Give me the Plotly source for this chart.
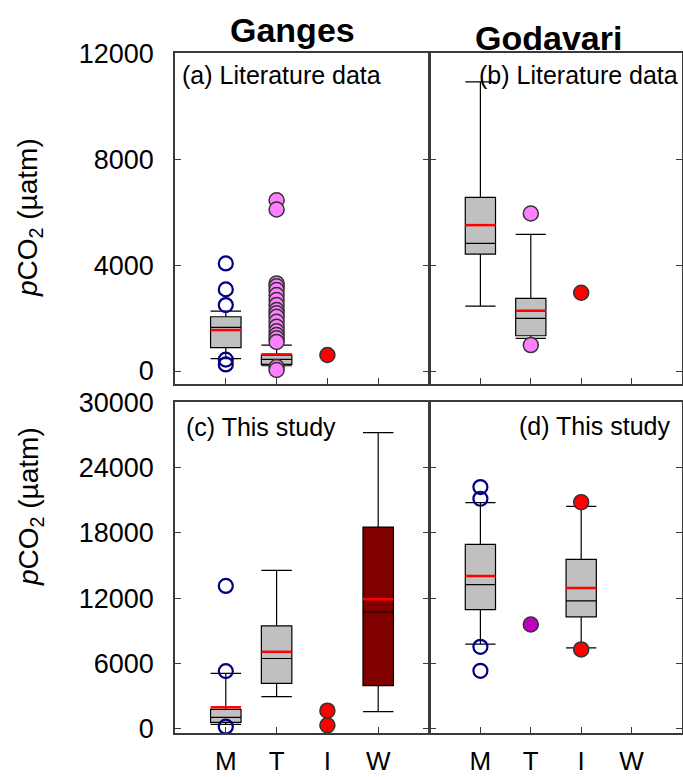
import plotly.graph_objects as go

W, H = 683, 777

categories = ["M", "T", "I", "W"]

# ---- (a) Ganges, literature data ----
ga_q1 = [880, 250, None, None]
ga_med = [1650, 440, None, None]
ga_q3 = [2050, 604, None, None]
ga_lo = [470, 200, None, None]
ga_hi = [2260, 980, None, None]
ga_mean = [1547, 630, None, None]
ga_out_M = [4064, 3083, 2490, 430, 250]
ga_out_T = [6450, 6100, 3310, 3200, 3057, 2868, 2680, 2490, 2302, 2180,
            2050, 1860, 1672, 1500, 1359, 1234, 1100, 150, 40]
ga_out_I = [604]

# ---- (b) Godavari, literature data ----
gb_q1 = [4415, 1333, None, None]
gb_med = [4820, 1988, None, None]
gb_q3 = [6555, 2743, None, None]
gb_lo = [2453, 1233, None, None]
gb_hi = [10920, 5158, None, None]
gb_mean = [5510, 2277, None, None]
gb_out_T = [5950, 980]
gb_out_I = [2956]

# ---- (c) Ganges, this study ----
gc_q1 = [610, 4190, None, 3970]
gc_med = [1070, 6470, None, 10750]
gc_q3 = [1800, 9460, None, 18530]
gc_lo = [430, 2960, None, 1590]
gc_hi = [5100, 14560, None, 27200]
gc_mean = [1990, 7080, None, 11910]
gc_out_M = [13130, 5310, 210]
gc_out_I = [1680, 340]

# ---- (d) Godavari, this study ----
gd_q1 = [10960, None, 10290, None]
gd_med = [13250, None, 11750, None]
gd_q3 = [16950, None, 15570, None]
gd_lo = [7790, None, 7450, None]
gd_hi = [20770, None, 20430, None]
gd_mean = [14040, None, 12940, None]
gd_out_M = [22200, 21130, 7540, 5340]
gd_out_T = [9590]
gd_out_I = [20820, 7300]

top_ticks = [0, 4000, 8000, 12000]
top_tick_labels = ["0", "4000", "8000", "12000"]
bottom_ticks = [0, 6000, 12000, 18000, 24000, 30000]
bottom_tick_labels = ["0", "6000", "12000", "18000", "24000", "30000"]

FONT = "Arial, 'Liberation Sans', Helvetica, sans-serif"
FRAME = "#3a3a3a"
BOXW = 0.6

fig = go.Figure()

pos = {c: i + 1 for i, c in enumerate(categories)}


def add_boxes(ax, q1, med, q3, lo, hi, mean, fills):
    xa, ya = ax
    for i, c in enumerate(categories):
        if q1[i] is None:
            continue
        fig.add_trace(go.Box(
            x=[pos[c]], q1=[q1[i]], median=[med[i]], q3=[q3[i]],
            lowerfence=[lo[i]], upperfence=[hi[i]],
            width=BOXW, whiskerwidth=1, boxpoints=False,
            fillcolor=fills[i], line=dict(color="black", width=1.2),
            xaxis=xa, yaxis=ya, showlegend=False, hoverinfo="skip"))
        fig.add_trace(go.Scatter(
            x=[pos[c] - BOXW / 2, pos[c] + BOXW / 2], y=[mean[i], mean[i]],
            mode="lines", line=dict(color="#ff0000", width=2.5),
            xaxis=xa, yaxis=ya, showlegend=False, hoverinfo="skip"))


def add_points(ax, cat, vals, kind):
    xa, ya = ax
    if kind == "open":
        marker = dict(symbol="circle-open", size=14, color="#000080",
                      line=dict(width=2.2, color="#000080"))
    else:
        marker = dict(symbol="circle", size=15, color=kind,
                      line=dict(width=1.5, color="#333333"))
    fig.add_trace(go.Scatter(
        x=[pos[cat]] * len(vals), y=vals, mode="markers", marker=marker,
        xaxis=xa, yaxis=ya, showlegend=False, hoverinfo="skip"))


A = ("x", "y")
B = ("x2", "y2")
C = ("x3", "y3")
D = ("x4", "y4")

GRAY = "#c0c0c0"
PINK = "#ff80ff"
RED = "#ff0000"
PURPLE = "#c000c0"
DARKRED = "#800000"

add_boxes(A, ga_q1, ga_med, ga_q3, ga_lo, ga_hi, ga_mean, [GRAY] * 4)
add_points(A, "M", ga_out_M, "open")
add_points(A, "T", ga_out_T, PINK)
add_points(A, "I", ga_out_I, RED)

add_boxes(B, gb_q1, gb_med, gb_q3, gb_lo, gb_hi, gb_mean, [GRAY] * 4)
add_points(B, "T", gb_out_T, PINK)
add_points(B, "I", gb_out_I, RED)

add_boxes(C, gc_q1, gc_med, gc_q3, gc_lo, gc_hi, gc_mean, [GRAY, GRAY, GRAY, DARKRED])
add_points(C, "M", gc_out_M, "open")
add_points(C, "I", gc_out_I, RED)

add_boxes(D, gd_q1, gd_med, gd_q3, gd_lo, gd_hi, gd_mean, [GRAY] * 4)
add_points(D, "M", gd_out_M, "open")
add_points(D, "T", gd_out_T, PURPLE)
add_points(D, "I", gd_out_I, RED)


def px_x(p):
    return p / W


def px_y(p):
    return 1 - p / H


left_dom = [px_x(175), px_x(429)]
right_dom = [px_x(430), px_x(682)]
top_dom = [px_y(384), px_y(53)]
bot_dom = [px_y(733), px_y(402)]

xcommon = dict(range=[0, 5], tickmode="array", tickvals=[pos[c] for c in categories],
               ticktext=categories, ticks="inside", ticklen=6, tickcolor=FRAME,
               showline=True, linecolor=FRAME, linewidth=1.5, mirror=True,
               showgrid=False, zeroline=False, automargin=False, fixedrange=True,
               tickfont=dict(family=FONT, size=26, color="black"),
               ticklabelstandoff=4)
ycommon = dict(ticks="inside", ticklen=6, tickcolor=FRAME, showline=True,
               linecolor=FRAME, linewidth=1.5, mirror="ticks", showgrid=False,
               zeroline=False, automargin=False, fixedrange=True, tickmode="array",
               tickfont=dict(family=FONT, size=27, color="black"),
               ticklabelstandoff=14)

fig.update_layout(
    width=W, height=H, margin=dict(l=0, r=0, t=0, b=0, pad=0, autoexpand=False),
    paper_bgcolor="white", plot_bgcolor="white", boxmode="overlay",
    showlegend=False,
    xaxis=dict(xcommon, domain=left_dom, anchor="y", showticklabels=False),
    xaxis2=dict(xcommon, domain=right_dom, anchor="y2", showticklabels=False),
    xaxis3=dict(xcommon, domain=left_dom, anchor="y3", showticklabels=True),
    xaxis4=dict(xcommon, domain=right_dom, anchor="y4", showticklabels=True),
    yaxis=dict(ycommon, domain=top_dom, anchor="x", range=[-490, 12010],
               tickvals=top_ticks, ticktext=top_tick_labels, showticklabels=True),
    yaxis2=dict(ycommon, domain=top_dom, anchor="x2", range=[-490, 12010],
                tickvals=top_ticks, ticktext=top_tick_labels, showticklabels=False),
    yaxis3=dict(ycommon, domain=bot_dom, anchor="x3", range=[-370, 30010],
                tickvals=bottom_ticks, ticktext=bottom_tick_labels, showticklabels=True),
    yaxis4=dict(ycommon, domain=bot_dom, anchor="x4", range=[-370, 30010],
                tickvals=bottom_ticks, ticktext=bottom_tick_labels, showticklabels=False),
)

ann = []
ann.append(dict(text="<b>Ganges</b>", x=px_x(292), y=px_y(30), xref="paper", yref="paper",
                xanchor="center", yanchor="middle", showarrow=False,
                font=dict(family=FONT, size=34, color="black")))
ann.append(dict(text="<b>Godavari</b>", x=px_x(548), y=px_y(38), xref="paper", yref="paper",
                xanchor="center", yanchor="middle", showarrow=False,
                font=dict(family=FONT, size=34, color="black")))
for txt, x, y in [("(a) Literature data", 180, 75), ("(b) Literature data", 477, 75),
                  ("(c) This study", 184, 427), ("(d) This study", 517, 426)]:
    ann.append(dict(text=txt, x=px_x(x), y=px_y(y), xref="paper", yref="paper",
                    xanchor="left", yanchor="middle", showarrow=False,
                    font=dict(family=FONT, size=25, color="black")))
ytitle = "<i>p</i>CO<sub>2</sub> (µatm)"
for yc in [218, 507]:
    ann.append(dict(text=ytitle, x=px_x(30), y=px_y(yc), xref="paper", yref="paper",
                    xanchor="center", yanchor="middle", textangle=-90, showarrow=False,
                    font=dict(family=FONT, size=28, color="black")))
fig.update_layout(annotations=ann)

fig.write_html("out.html", config={"displayModeBar": False},
               post_script="document.body.style.margin='0';")
